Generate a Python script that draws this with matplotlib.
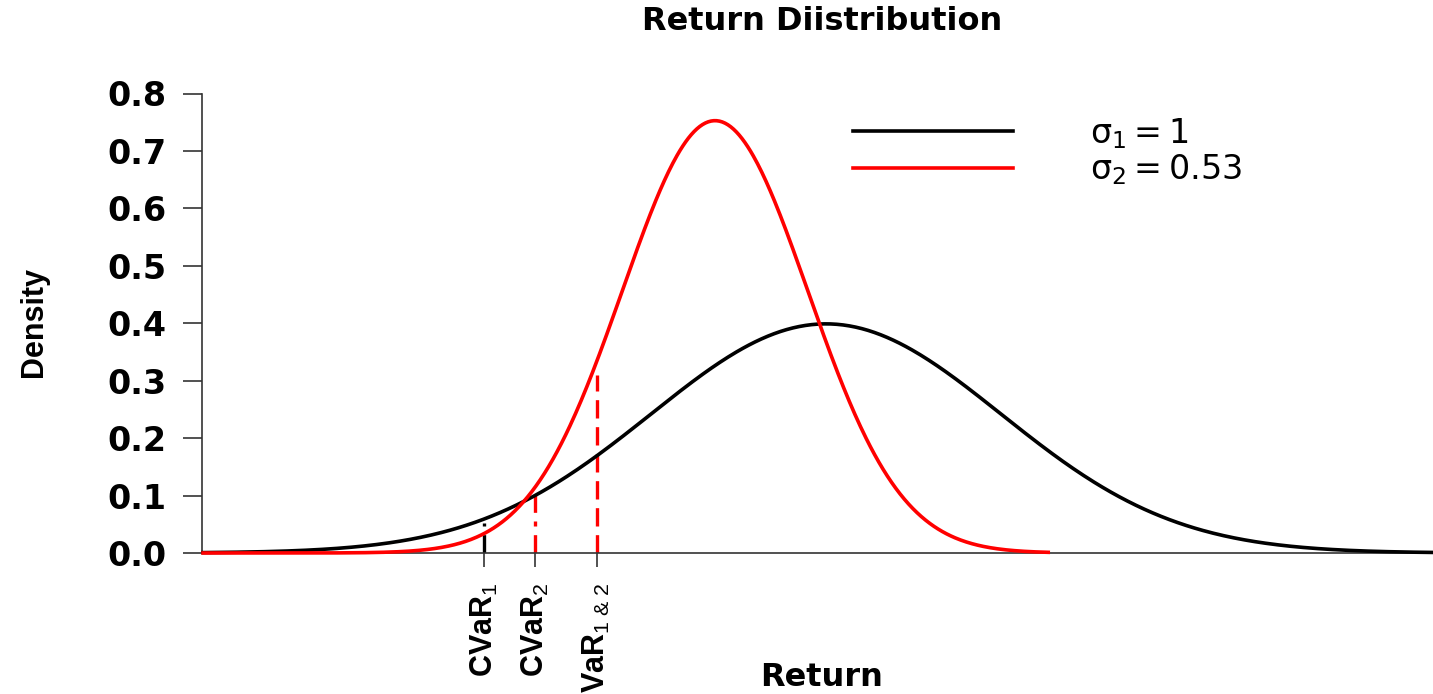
import numpy as np
import matplotlib
matplotlib.use("Agg")
import matplotlib.pyplot as plt
from matplotlib.lines import Line2D

plt.rcParams['mathtext.fontset'] = 'custom'
plt.rcParams['mathtext.rm'] = 'Liberation Sans'
plt.rcParams['mathtext.it'] = 'Liberation Sans'
plt.rcParams['mathtext.bf'] = 'Liberation Sans:bold'

# two return distributions
mu = [0.0, -0.634]
sigma = [1.0, 0.53]
curve_lo = [-3.56, -3.56]
curve_hi = [3.6, 1.27]
colors = ['black', 'red']
legend_labels = [r'$\mathrm{\sigma}_1 = 1$', r'$\mathrm{\sigma}_2 = 0.53$']

# risk markers on the return axis
mark_x = [-1.954, -1.663, -1.309]
mark_top = [0.053, 0.105, 0.31]
mark_color = ['black', 'red', 'red']
mark_style = [(0, (5.5, 2.6)), (0, (5.5, 2.6, 1.5, 2.6)), (0, (5.5, 2.6))]
mark_labels = [r'CVaR$_1$', r'CVaR$_2$', r'VaR$_{1\ &\ 2}$']

yticks = [0.0, 0.1, 0.2, 0.3, 0.4, 0.5, 0.6, 0.7, 0.8]


def dnorm(x, m, s):
    return np.exp(-0.5 * ((x - m) / s) ** 2) / (s * np.sqrt(2 * np.pi))


fig = plt.figure(figsize=(14.33, 6.94), dpi=100)
ax = fig.add_axes([202 / 1433, (694 - 553) / 694, (1433 - 202) / 1433, (553 - 93.5) / 694])

for m, s, lo, hi, c in zip(mu, sigma, curve_lo, curve_hi, colors):
    xs = np.linspace(lo, hi, 600)
    ax.plot(xs, dnorm(xs, m, s), color=c, lw=2.6, clip_on=False, zorder=3)

for x, top, c, ls in zip(mark_x, mark_top, mark_color, mark_style):
    ax.plot([x, x], [0, top], color=c, lw=2.4, linestyle=ls, zorder=2)

ax.set_xlim(-3.566, 3.469)
ax.set_ylim(0, 0.8)

for side in ['top', 'right']:
    ax.spines[side].set_visible(False)
ax.spines['left'].set_bounds(0, 0.8)
for side in ['left', 'bottom']:
    ax.spines[side].set_color('#333333')
    ax.spines[side].set_linewidth(1.2)

ax.set_yticks(yticks)
ax.set_yticklabels(['%.1f' % v for v in yticks], fontfamily='DejaVu Sans',
                   fontweight='bold', fontsize=24)
ax.tick_params(axis='y', length=13.7, width=1.2, color='#333333', pad=12)

ax.set_xticks(mark_x)
ax.set_xticklabels(mark_labels, rotation=90, fontfamily='Liberation Sans',
                   fontweight='bold', fontsize=22)
ax.tick_params(axis='x', length=10, width=1.2, color='#333333', pad=11)

fig.text(822 / 1433, 1 - 22 / 694, 'Return Diistribution', ha='center', va='center',
         fontfamily='DejaVu Sans', fontweight='bold', fontsize=23)
fig.text(822 / 1433, 1 - 678 / 694, 'Return', ha='center', va='center',
         fontfamily='DejaVu Sans', fontweight='bold', fontsize=23)
fig.text(34 / 1433, 1 - 322 / 694, 'Density', ha='center', va='center', rotation=90,
         fontfamily='Liberation Sans', fontweight='bold', fontsize=22)

handles = [Line2D([], [], color=c, lw=2.6) for c in colors]
leg = ax.legend(handles, legend_labels, loc='upper left', bbox_to_anchor=(0.529, 0.951),
                frameon=False, borderpad=0, borderaxespad=0, fontsize=24,
                handlelength=4.8, handletextpad=2.3, labelspacing=0.05)
for t in leg.get_texts():
    t.set_math_fontfamily('dejavusans')

fig.savefig('out.png', dpi=100)
